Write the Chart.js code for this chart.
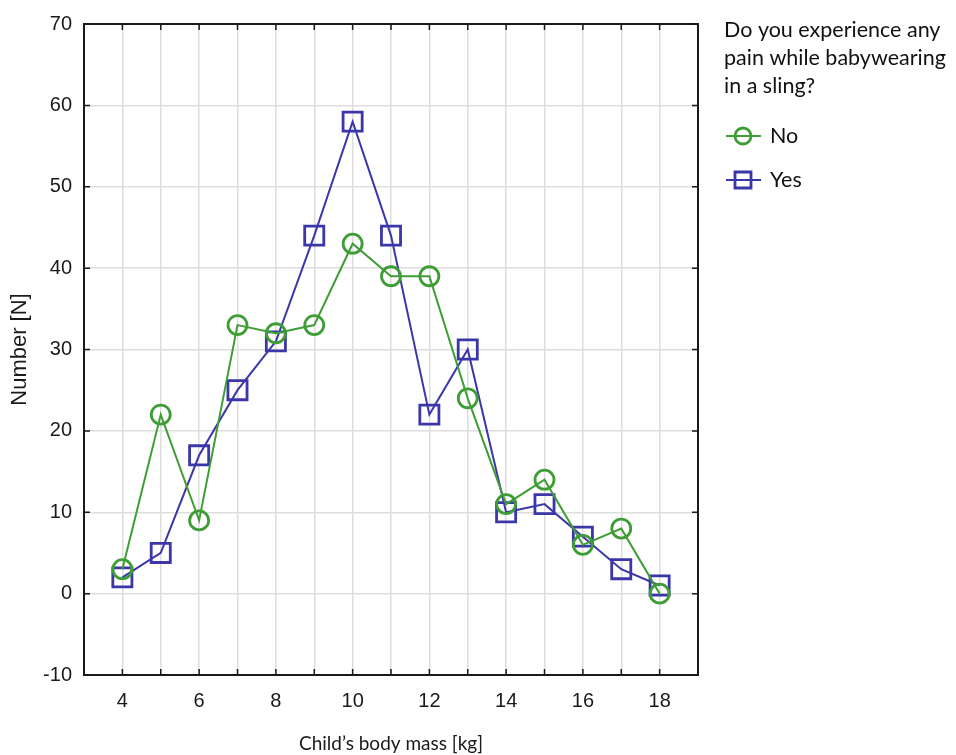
<!DOCTYPE html>
<html>
<head>
<meta charset="utf-8">
<script src="https://cdn.jsdelivr.net/npm/chart.js@4.4.1/dist/chart.umd.min.js"></script>
<style>
  html, body { margin: 0; padding: 0; background: #fff; overflow: hidden; }
  canvas { display: block; }
</style>
</head>
<body>
<canvas id="myChart" width="956" height="755" style="width:956px;height:755px"></canvas>
<script>
// data
var massKg = [4, 5, 6, 7, 8, 9, 10, 11, 12, 13, 14, 15, 16, 17, 18];
var painNo = [3, 22, 9, 33, 32, 33, 43, 39, 39, 24, 11, 14, 6, 8, 0];
var painYes = [2, 5, 17, 25, 31, 44, 58, 44, 22, 30, 10, 11, 7, 3, 1];
var xTickLabels = [4, 6, 8, 10, 12, 14, 16, 18];
var legendTitle = ['Do you experience any', 'pain while babywearing', 'in a sling?'];
var seriesNames = ['No', 'Yes'];

var green = '#3e9d34';
var blue = '#3b37a8';

function toPoints(vals) {
  return massKg.map(function (m, i) { return { x: m, y: vals[i] }; });
}

// frame + inward ticks + legend
var framePlugin = {
  id: 'frame',
  afterDraw: function (chart) {
    var ctx = chart.ctx;
    var a = chart.chartArea;
    var xs = chart.scales.x, ys = chart.scales.y;
    ctx.save();
    ctx.strokeStyle = '#1a1a1a';
    ctx.lineWidth = 2;
    ctx.strokeRect(a.left, a.top, a.right - a.left, a.bottom - a.top);
    ctx.lineWidth = 1.5;
    ctx.beginPath();
    for (var v = 4; v <= 18; v++) {
      var px = xs.getPixelForValue(v);
      ctx.moveTo(px, a.bottom); ctx.lineTo(px, a.bottom - 6);
      ctx.moveTo(px, a.top); ctx.lineTo(px, a.top + 6);
    }
    for (var w = -10; w <= 70; w += 10) {
      var py = ys.getPixelForValue(w);
      ctx.moveTo(a.left, py); ctx.lineTo(a.left + 6, py);
      ctx.moveTo(a.right, py); ctx.lineTo(a.right - 6, py);
    }
    ctx.stroke();

    // legend
    var lx = 724;
    ctx.fillStyle = '#111';
    ctx.font = '21.5px Lato, "Open Sans", sans-serif';
    ctx.textBaseline = 'middle';
    ctx.textAlign = 'left';
    legendTitle.forEach(function (t, i) { ctx.fillText(t, lx, 30 + i * 28); });
    var cols = [green, blue];
    seriesNames.forEach(function (name, i) {
      var cy = 136 + i * 44;
      ctx.strokeStyle = cols[i];
      ctx.lineWidth = 2;
      ctx.beginPath();
      ctx.moveTo(726, cy); ctx.lineTo(761, cy);
      ctx.stroke();
      ctx.lineWidth = 2.8;
      ctx.beginPath();
      if (i === 0) {
        ctx.arc(743, cy, 8, 0, Math.PI * 2);
      } else {
        ctx.rect(735, cy - 8, 16, 16);
      }
      ctx.stroke();
      ctx.fillText(name, 770, cy);
    });
    ctx.restore();
  }
};

var ctx = document.getElementById('myChart').getContext('2d');
var myChart = new Chart(ctx, {
  type: 'scatter',
  data: {
    datasets: [
      {
        label: 'No',
        data: toPoints(painNo),
        showLine: true,
        borderColor: green,
        borderWidth: 2,
        pointStyle: 'circle',
        pointRadius: 9.5,
        pointBorderWidth: 2.8,
        pointBackgroundColor: 'rgba(0,0,0,0)',
        pointBorderColor: green
      },
      {
        label: 'Yes',
        data: toPoints(painYes),
        showLine: true,
        borderColor: blue,
        borderWidth: 2,
        pointStyle: 'rect',
        pointRadius: 13.5,
        pointBorderWidth: 2.8,
        pointBackgroundColor: 'rgba(0,0,0,0)',
        pointBorderColor: blue
      }
    ]
  },
  options: {
    responsive: false,
    maintainAspectRatio: false,
    animation: false,
    devicePixelRatio: 1,
    layout: { padding: { top: 20, right: 258, left: 0, bottom: 0 } },
    plugins: {
      legend: { display: false },
      tooltip: { enabled: false }
    },
    scales: {
      x: {
        type: 'linear',
        min: 3,
        max: 19,
        afterFit: function (s) { s.height = 80; },
        grid: { color: '#dedede', lineWidth: 1.5, drawTicks: false },
        border: { display: false },
        ticks: {
          stepSize: 1,
          padding: 14,
          color: '#1a1a1a',
          font: { family: '"Liberation Sans", Arial, sans-serif', size: 20 },
          callback: function (v) { return xTickLabels.indexOf(v) >= 0 ? String(v) : ''; }
        },
        title: {
          display: true,
          text: 'Child\u2019s body mass [kg]',
          color: '#1a1a1a',
          font: { family: 'Lato, "Open Sans", sans-serif', size: 19 },
          padding: { top: 0, bottom: 0 }
        }
      },
      y: {
        min: -10,
        max: 70,
        afterFit: function (s) { s.width = 84; },
        grid: { color: '#dedede', lineWidth: 1.5, drawTicks: false },
        border: { display: false },
        ticks: {
          stepSize: 10,
          padding: 12,
          color: '#1a1a1a',
          font: { family: '"Liberation Sans", Arial, sans-serif', size: 20 }
        },
        title: {
          display: true,
          text: 'Number [N]',
          color: '#1a1a1a',
          font: { family: '"Liberation Sans", Arial, sans-serif', size: 22 },
          padding: { top: 7, bottom: 0 }
        }
      }
    }
  },
  plugins: [framePlugin]
});
</script>
</body>
</html>
